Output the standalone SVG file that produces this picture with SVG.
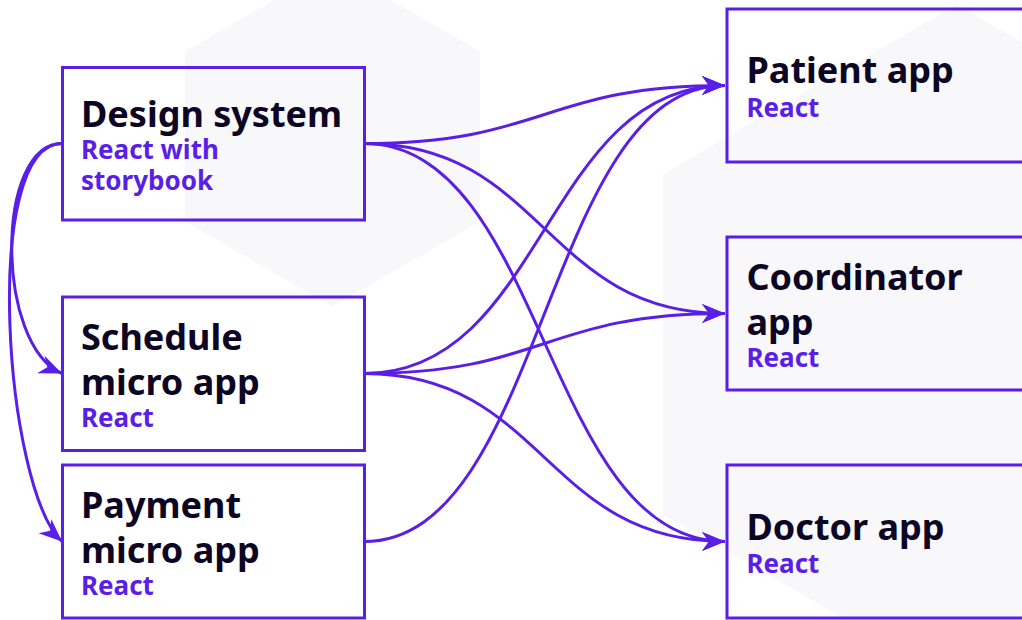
<svg xmlns="http://www.w3.org/2000/svg" width="1022" height="620" viewBox="0 0 1022 620">
<defs>
<style>
.bg{fill:#ffffff}
.hex{fill:#f8f8fb}
.box{fill:none;stroke:#5a1fe6;stroke-width:3}
.t{font-family:"Noto Sans",Lato,sans-serif;font-weight:700;font-size:36px;fill:#0c0524}
.s{font-family:"Noto Sans",Lato,sans-serif;font-weight:700;font-size:26px;fill:#5a1fe6}
.c{fill:none;stroke:#5a1fe6;stroke-width:3}
</style>
<marker id="ah" markerUnits="userSpaceOnUse" markerWidth="26" markerHeight="22" viewBox="-24 -11 26 22" refX="0" refY="0" orient="auto">
<path d="M0,0 L-23,-9.5 L-16,0 L-23,9.5 Z" fill="#5a1fe6"/>
</marker>
</defs>
<rect class="bg" x="0" y="0" width="1022" height="620"/>
<g id="background">
<polygon class="hex" points="332.5,-33.5 480,51.5 480,221.5 332.5,306.5 185,221.5 185,51.5"/>
<polygon class="hex" points="957,4.5 1251,174 1251,514 957,683.5 663,514 663,174"/>
</g>
<g id="connectors">
<path class="c" marker-end="url(#ah)" d="M364,143.5 C544.5,143.5 544.5,85.5 725,85.5"/>
<path class="c" marker-end="url(#ah)" d="M364,143.5 C544.5,143.5 544.5,313.5 725,313.5"/>
<path class="c" marker-end="url(#ah)" d="M364,143.5 C544.5,143.5 544.5,541.5 725,541.5"/>
<path class="c" marker-end="url(#ah)" d="M364,373.5 C544.5,373.5 544.5,85.5 725,85.5"/>
<path class="c" marker-end="url(#ah)" d="M364,373.5 C544.5,373.5 544.5,313.5 725,313.5"/>
<path class="c" marker-end="url(#ah)" d="M364,373.5 C544.5,373.5 544.5,541.5 725,541.5"/>
<path class="c" marker-end="url(#ah)" d="M364,541.5 C544.5,541.5 544.5,85.5 725,85.5"/>
<path class="c" marker-end="url(#ah)" d="M62,143.5 C-5,143.5 -5,345 62,373.5"/>
<path class="c" marker-end="url(#ah)" d="M62,143.5 C-20,143.5 5,490 62,541.5"/>
</g>
<g id="design-system">
<rect class="box" x="62.5" y="67.5" width="302" height="152.5"/>
<text class="t" x="81" y="127">Design system</text>
<text class="s" x="81" y="159">React with</text>
<text class="s" x="81" y="190">storybook</text>
</g>
<g id="schedule">
<rect class="box" x="62.5" y="297" width="302" height="153.5"/>
<text class="t" x="81" y="350">Schedule</text>
<text class="t" x="81" y="395">micro app</text>
<text class="s" x="81" y="427">React</text>
</g>
<g id="payment">
<rect class="box" x="62.5" y="465" width="302" height="153"/>
<text class="t" x="81" y="518">Payment</text>
<text class="t" x="81" y="563">micro app</text>
<text class="s" x="81" y="595">React</text>
</g>
<g id="patient">
<rect class="box" x="727" y="9" width="310" height="153"/>
<text class="t" x="746.5" y="83">Patient app</text>
<text class="s" x="746.5" y="117">React</text>
</g>
<g id="coordinator">
<rect class="box" x="727" y="237" width="310" height="153"/>
<text class="t" x="746.5" y="290">Coordinator</text>
<text class="t" x="746.5" y="335">app</text>
<text class="s" x="746.5" y="367">React</text>
</g>
<g id="doctor">
<rect class="box" x="727" y="465" width="310" height="153"/>
<text class="t" x="746.5" y="540">Doctor app</text>
<text class="s" x="746.5" y="573">React</text>
</g>
</svg>
